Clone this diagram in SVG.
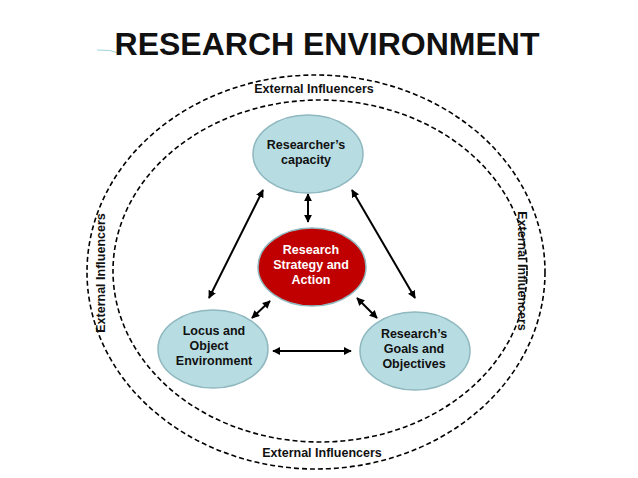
<svg xmlns="http://www.w3.org/2000/svg" width="638" height="478" viewBox="0 0 638 478">
<style>
text{font-family:"Liberation Sans",Arial,sans-serif;font-weight:bold;text-anchor:middle}
.b{fill:#b7dde3;stroke:#8fb8bf;stroke-width:1.5}
.r{fill:#c00000;stroke:#8fb8bf;stroke-width:1.5}
.d{fill:none;stroke:#000;stroke-width:1.6;stroke-dasharray:5,3}
.t{font-size:12.5px;fill:#111}
.w{fill:#fff}
.c line{stroke:#000;stroke-width:2;marker-start:url(#a);marker-end:url(#a)}
</style>
<defs><marker id="a" viewBox="0 0 10 10" refX="9" refY="5" markerWidth="4" markerHeight="4" orient="auto-start-reverse"><path d="M0,0L10,5L0,10z"/></marker></defs>
<rect width="638" height="478" fill="#fff"/>
<path d="M97,50 Q110,49 122,54" stroke="#9fd3d8" fill="none" stroke-width="1"/>
<text x="327" y="55" font-size="32" fill="#111">RESEARCH ENVIRONMENT</text>
<g id="outer"><ellipse class="d" cx="316" cy="272" rx="229" ry="197"/></g>
<g id="inner"><ellipse class="d" cx="320" cy="271" rx="207" ry="171"/></g>
<text class="t" x="314" y="93">External Influencers</text>
<text class="t" x="322" y="457">External Influencers</text>
<text class="t" transform="translate(105,273) rotate(-90)">External Influencers</text>
<text class="t" transform="translate(518,271) rotate(90)">External Influencers</text>
<g class="c">
<line x1="263" y1="190" x2="209" y2="298"/>
<line x1="352" y1="190" x2="415" y2="298"/>
<line x1="308" y1="194" x2="308" y2="222"/>
<line x1="252" y1="318" x2="270" y2="301"/>
<line x1="357" y1="298" x2="377" y2="318"/>
<line x1="273" y1="351" x2="351" y2="351"/>
</g>
<g id="capacity"><ellipse class="b" cx="308" cy="154" rx="55" ry="39"/><text class="t" x="306" y="149">Researcher’s</text><text class="t" x="306" y="164">capacity</text></g>
<g id="strategy"><ellipse class="r" cx="312" cy="267" rx="54" ry="39"/><text class="t w" x="311" y="254">Research</text><text class="t w" x="311" y="269">Strategy and</text><text class="t w" x="311" y="284">Action</text></g>
<g id="locus"><ellipse class="b" cx="213" cy="349" rx="55" ry="39"/><text class="t" x="214" y="335">Locus and</text><text class="t" x="209" y="350">Object</text><text class="t" x="214" y="365">Environment</text></g>
<g id="goals"><ellipse class="b" cx="415" cy="351" rx="55" ry="39"/><text class="t" x="414" y="338">Research’s</text><text class="t" x="414" y="353">Goals and</text><text class="t" x="414" y="368">Objectives</text></g>
</svg>
